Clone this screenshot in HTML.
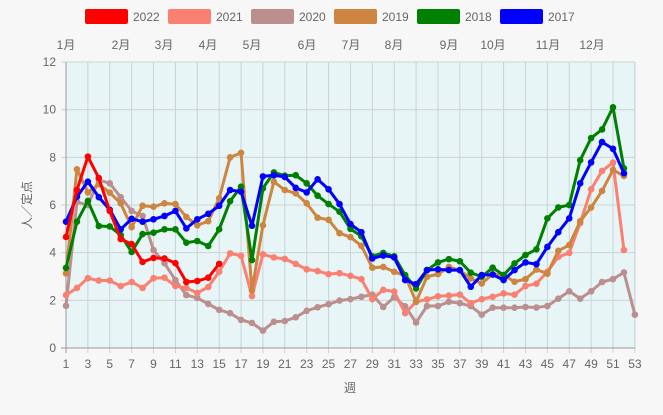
<!DOCTYPE html>
<html><head><meta charset="utf-8"><style>
html,body{margin:0;padding:0;background:#f7f7f7;width:663px;height:415px;overflow:hidden}
svg{display:block;font-family:"Liberation Sans","Noto Sans CJK JP",sans-serif}
</style></head><body>
<svg id="s" width="663" height="415" xmlns="http://www.w3.org/2000/svg">
<rect x="66" y="62" width="569" height="286" fill="#e7f5f7"/>
<g id="grid"></g>
<g id="lines"></g>
<g font-size="12" fill="#666" id="labels"></g>
</svg>
<script>
var X=function(w){return 66+(w-1)*10.94;},Y=function(v){return 348-v*23.83;};
var ns="http://www.w3.org/2000/svg";
function el(p,t,a,txt){var e=document.createElementNS(ns,t);for(var k in a)e.setAttribute(k,a[k]);if(txt!=null)e.textContent=txt;document.getElementById(p).appendChild(e);return e;}
for(var w=1;w<=53;w+=2){el("grid","line",{x1:X(w),x2:X(w),y1:62,y2:353,stroke:"#c9d3d4","stroke-width":1});}
el("grid","line",{x1:635,x2:635,y1:62,y2:348,stroke:"#c9d3d4"});
for(var v=0;v<=12;v+=2){el("grid","line",{x1:61,x2:635,y1:Y(v),y2:Y(v),stroke:v==0?"#999":"#c9d3d4"});el("labels","text",{x:56,y:Y(v)+4,"text-anchor":"end"},v);}
el("grid","line",{x1:66,x2:66,y1:62,y2:353,stroke:"#999"});
for(var w=1;w<=53;w+=2)el("labels","text",{x:X(w),y:368,"text-anchor":"middle"},w);
el("labels","text",{x:350,y:392,"text-anchor":"middle"},"週");
el("labels","text",{x:0,y:0,"text-anchor":"middle",transform:"translate(31,205) rotate(-90)"},"人／定点");
var months=[["1月",66],["2月",121],["3月",164],["4月",208],["5月",252],["6月",307],["7月",351],["8月",394],["9月",449],["10月",493],["11月",548],["12月",592]];
months.forEach(function(m){el("labels","text",{x:m[1],y:49,"text-anchor":"middle"},m[0]);});
var D={
"2017":["#0000ff",[5.3,6.35,6.98,6.33,5.8,4.98,5.42,5.3,5.4,5.54,5.75,5.02,5.4,5.63,5.97,6.63,6.56,5.13,7.2,7.25,7.18,6.72,6.53,7.08,6.66,6.04,5.2,4.86,3.76,3.88,3.8,2.85,2.68,3.27,3.3,3.27,3.27,2.57,3.06,3.08,2.85,3.27,3.59,3.52,4.24,4.86,5.44,6.91,7.79,8.64,8.36,7.33]],
"2018":["#008000",[3.36,5.3,6.17,5.12,5.1,4.74,4.03,4.78,4.84,4.98,4.98,4.42,4.49,4.28,4.98,6.16,6.77,3.69,6.7,7.37,7.23,7.25,6.91,6.39,6.04,5.72,5.0,4.69,3.85,3.99,3.85,3.06,2.5,3.27,3.59,3.73,3.64,3.16,2.99,3.37,3.06,3.55,3.9,4.14,5.44,5.9,6.0,7.88,8.81,9.17,10.1,7.54]],
"2019":["#cd853f",[3.13,7.5,6.53,6.87,6.52,6.07,5.07,5.97,5.93,6.07,6.04,5.5,5.15,5.32,6.28,8.0,8.19,2.42,5.15,6.98,6.63,6.49,6.07,5.47,5.38,4.82,4.65,4.29,3.37,3.4,3.2,3.03,1.94,2.99,3.1,3.4,3.26,2.92,2.71,3.1,3.06,2.78,2.89,3.29,3.12,4.08,4.32,5.32,5.9,6.59,7.47,7.22]],
"2020":["#bc8f8f",[1.77,6.13,6.0,7.05,6.91,6.33,5.75,5.54,4.11,3.56,2.85,2.22,2.1,1.85,1.6,1.46,1.18,1.05,0.73,1.1,1.13,1.29,1.56,1.71,1.84,1.99,2.05,2.15,2.24,1.72,2.13,1.75,1.07,1.76,1.76,1.94,1.88,1.76,1.4,1.69,1.69,1.69,1.72,1.7,1.76,2.07,2.38,2.07,2.38,2.77,2.89,3.17,1.4]],
"2021":["#fa8072",[2.22,2.52,2.93,2.83,2.83,2.6,2.77,2.52,2.93,2.95,2.6,2.52,2.31,2.56,3.2,3.97,3.87,2.18,3.93,3.8,3.74,3.53,3.3,3.23,3.1,3.14,3.03,2.89,2.05,2.44,2.37,1.46,1.94,2.04,2.17,2.2,2.24,1.88,2.05,2.15,2.29,2.24,2.6,2.7,3.2,3.82,3.99,5.24,6.66,7.43,7.78,4.11]],
"2022":["#ff0000",[4.66,6.63,8.03,7.13,5.75,4.57,4.36,3.61,3.78,3.76,3.56,2.77,2.81,2.95,3.53]]};
["2020","2021","2019","2018","2017","2022"].forEach(function(k){var c=D[k][0],d=D[k][1];
 el("lines","polyline",{points:d.map(function(v,i){return X(i+1)+","+Y(v);}).join(" "),fill:"none",stroke:c,"stroke-width":3,"stroke-linejoin":"round"});
 d.forEach(function(v,i){el("lines","circle",{cx:X(i+1),cy:Y(v),r:3.3,fill:c});});});
var lg=["2022","2021","2020","2019","2018","2017"];
lg.forEach(function(k,i){var x=85+i*83;el("labels","rect",{x:x,y:9,width:43,height:15,rx:2,fill:D[k][0]});el("labels","text",{x:x+48,y:21},k);});
</script>
</body></html>
